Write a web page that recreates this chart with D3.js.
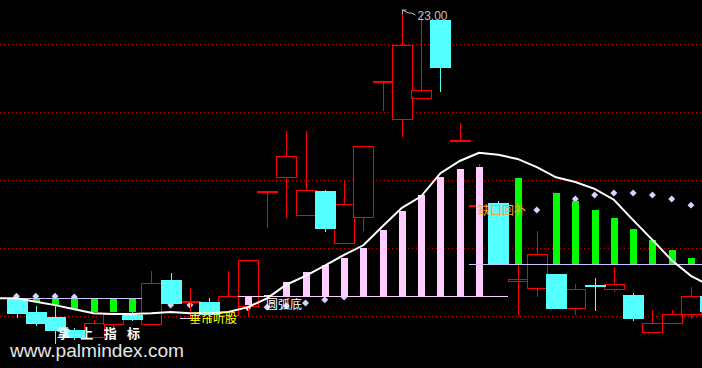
<!DOCTYPE html>
<html lang="zh">
<head>
<meta charset="utf-8">
<title>K线 指标</title>
<script src="https://cdn.jsdelivr.net/npm/d3@7/dist/d3.min.js"></script>
<style>
  body { margin: 0; background: #000; }
  svg { display: block; }
  .cn { font-family: "Noto Sans CJK SC", sans-serif; font-size: 12px; }
  .num { font-family: "Liberation Sans", Arial, sans-serif; font-size: 12px; }
</style>
</head>
<body>
<div id="vis"></div>
<script>
const width = 702, height = 368;

// trading days (index only, no dates on the chart)
const days = d3.range(37);

// candles
const open  = [18.75,18.56,18.49,18.29,18.19,18.38,18.51,18.38,19.03,18.71,18.71,18.51,18.65,20.33,20.54,19.99,20.34,19.57,19.96,21.95,21.40,21.71,22.85,21.08,20.12,20.16,19.01,18.91,19.12,18.62,18.96,18.90,18.81,18.26,18.40,18.53,18.79];
const high  = [18.78,18.65,18.66,18.32,18.44,18.56,18.59,19.16,19.13,18.91,18.76,19.16,19.32,20.34,21.22,21.22,20.35,20.50,21.00,21.96,23.00,22.95,22.85,21.34,20.74,20.19,19.59,19.75,19.12,18.97,19.06,19.22,18.84,18.59,18.59,18.93,18.82];
const low   = [18.47,18.35,18.09,18.15,18.18,18.24,18.43,18.37,18.63,18.46,18.41,18.47,18.49,19.79,19.94,19.99,19.74,19.57,19.75,21.51,21.13,21.71,21.79,21.08,20.12,19.25,18.51,18.78,18.60,18.51,18.57,18.85,18.43,18.26,18.40,18.46,18.50];
const close = [18.53,18.38,18.28,18.18,18.40,18.53,18.44,18.99,18.68,18.72,18.51,18.79,19.32,20.34,20.85,20.35,19.78,20.15,21.00,21.96,22.49,21.82,22.15,21.09,20.13,19.25,19.04,19.41,18.60,18.90,18.93,18.97,18.46,18.40,18.53,18.79,18.56];

// white moving average, starts one day before the first candle
const maDays = d3.range(-1, 37);
const ma = [18.76,18.76,18.71,18.66,18.60,18.54,18.53,18.53,18.54,18.56,18.54,18.54,18.56,18.63,18.76,18.96,19.09,19.24,19.40,19.54,19.82,20.09,20.26,20.60,20.78,20.90,20.87,20.81,20.69,20.54,20.47,20.37,20.21,19.91,19.62,19.32,19.09,18.94];

// dotted grid levels
const gridLevels = [18.5, 19.5, 20.5, 21.5, 22.5];

// level lines: [from day, to day, price]
const levelFrom  = [-1, 8.5, 23.5];
const levelTo    = [6.5, 9.5, 36.5];
const levelPrice = [18.76, 18.47, 19.26];

// pink bars (round bottom)
const pinkBase = 18.79;
const pinkFrom = 11.5, pinkTo = 25.5;
const pinkDays = [12,13,14,15,16,17,18,19,20,21,22,23,24];
const pinkVals = [18.66,18.81,19.00,19.15,19.25,19.35,19.50,19.76,20.04,20.28,20.54,20.66,20.69];

// green bars, left part hang from the level line
const greenLeftDays = [1,2,3,4,5,6];
const greenLeftVals = [18.71,18.66,18.60,18.56,18.56,18.56];
// green bars, right part rise from the level line
const greenRightDays = [26,28,29,30,31,32,33,34,35];
const greenRightVals = [20.53,20.31,20.19,20.06,19.94,19.78,19.62,19.47,19.35];

// diamond dots
const dotDays = [0,1,2,3,8,9,12,13,14,15,16,17,27,28,29,30,31,32,33,34,35];
const dotVals = [18.79,18.79,18.79,18.78,18.66,18.66,18.62,18.63,18.65,18.69,18.74,18.78,20.06,20.16,20.22,20.28,20.31,20.31,20.28,20.22,20.13];

// text signals
const signalText  = ["垂帘听股", "圆弧底", "缺口回补"];
const signalDay   = [9, 13, 24];
const signalPrice = [18.40, 18.60, 19.99];
const signalColor = ["#ffff00", "#ffffff", "#ffa020"];

const x = d3.scaleLinear().domain([0, 36]).range([16.5, 16.5 + 36 * 19.27]);
const y = d3.scaleLinear().domain([18.5, 22.5]).range([316, 44]);

const RED = "#ff0000", CYAN = "#54ffff", GREEN = "#00ff00", PINK = "#ffccff", LAV = "#c8c8ff";
const px = v => Math.round(v);

const svg = d3.select("#vis").append("svg")
  .attr("width", width).attr("height", height)
  .style("background", "#000");

// grid
svg.append("g").selectAll("line").data(gridLevels).join("line")
  .attr("x1", 0).attr("x2", width)
  .attr("y1", d => px(y(d)) + 0.5).attr("y2", d => px(y(d)) + 0.5)
  .attr("stroke", "#c00000").attr("stroke-dasharray", "1,3");

// diamonds (under the bars)
svg.append("g").selectAll("path").data(dotDays).join("path")
  .attr("d", d3.symbol(d3.symbolSquare, 24))
  .attr("transform", (d, i) => `translate(${x(d)},${y(dotVals[i])}) rotate(45)`)
  .attr("fill", "#d4d4ff");

// candles
const candles = days.map(i => ({ i, o: open[i], h: high[i], l: low[i], c: close[i] }));
const cg = svg.append("g").attr("shape-rendering", "crispEdges");
cg.selectAll("line").data(candles).join("line")
  .attr("x1", d => px(x(d.i)) + 0.5).attr("x2", d => px(x(d.i)) + 0.5)
  .attr("y1", d => px(y(d.h))).attr("y2", d => px(y(d.l)))
  .attr("stroke", d => d.c >= d.o ? RED : CYAN);
cg.selectAll("rect.up").data(candles.filter(d => d.c >= d.o)).join("rect")
  .attr("class", "up")
  .attr("x", d => px(x(d.i)) - 10 + 0.5)
  .attr("y", d => px(y(d.c)) + 0.5)
  .attr("width", 20)
  .attr("height", d => Math.max(1, px(y(d.o)) - px(y(d.c))))
  .attr("fill", "#000").attr("stroke", RED);
cg.selectAll("rect.down").data(candles.filter(d => d.c < d.o)).join("rect")
  .attr("class", "down")
  .attr("x", d => px(x(d.i)) - 10)
  .attr("y", d => px(y(d.o)))
  .attr("width", 21)
  .attr("height", d => Math.max(2, px(y(d.c)) - px(y(d.o))))
  .attr("fill", CYAN);

const bg = svg.append("g").attr("shape-rendering", "crispEdges");
// pink bars
bg.selectAll("rect.pink").data(pinkDays).join("rect")
  .attr("class", "pink")
  .attr("x", d => px(x(d)) - 3)
  .attr("width", 7)
  .attr("y", (d, i) => Math.min(y(pinkVals[i]), y(pinkBase)))
  .attr("height", (d, i) => Math.abs(y(pinkVals[i]) - y(pinkBase)))
  .attr("fill", PINK);
bg.append("line")
  .attr("x1", x(pinkFrom)).attr("x2", x(pinkTo))
  .attr("y1", px(y(pinkBase)) + 0.5).attr("y2", px(y(pinkBase)) + 0.5)
  .attr("stroke", PINK);

// green bars
bg.selectAll("rect.gl").data(greenLeftDays).join("rect")
  .attr("class", "gl")
  .attr("x", d => px(x(d)) - 3)
  .attr("width", 7)
  .attr("y", y(levelPrice[0]))
  .attr("height", (d, i) => y(greenLeftVals[i]) - y(levelPrice[0]))
  .attr("fill", GREEN);
bg.selectAll("rect.gr").data(greenRightDays).join("rect")
  .attr("class", "gr")
  .attr("x", d => px(x(d)) - 3)
  .attr("width", 7)
  .attr("y", (d, i) => y(greenRightVals[i]))
  .attr("height", (d, i) => y(levelPrice[2]) - y(greenRightVals[i]))
  .attr("fill", GREEN);

// lavender level lines
bg.selectAll("line.lv").data(levelPrice).join("line")
  .attr("class", "lv")
  .attr("x1", (d, i) => x(levelFrom[i])).attr("x2", (d, i) => x(levelTo[i]))
  .attr("y1", d => px(y(d)) + 0.5).attr("y2", d => px(y(d)) + 0.5)
  .attr("stroke", LAV);

// moving average
svg.append("path")
  .datum(maDays)
  .attr("d", d3.line().x(d => x(d)).y((d, i) => y(ma[i])))
  .attr("fill", "none").attr("stroke", "#fff").attr("stroke-width", 2);

// signal texts
svg.append("g").selectAll("text").data(signalText).join("text")
  .attr("class", "cn")
  .attr("x", (d, i) => x(signalDay[i]) - 1)
  .attr("y", (d, i) => y(signalPrice[i]))
  .attr("fill", (d, i) => signalColor[i])
  .text(d => d);

// highest price marker
const hiIdx = d3.maxIndex(high);
const hx = px(x(hiIdx)) + 0.5, hy = px(y(high[hiIdx]));
svg.append("path")
  .attr("d", `M${hx},${hy + 4}L${hx},${hy}L${hx + 4},${hy} M${hx},${hy}L${hx + 6},${hy + 3}L${hx + 9},${hy + 3}L${hx + 13},${hy + 5}`)
  .attr("fill", "none").attr("stroke", "#c0c0c0");
svg.append("text")
  .attr("class", "num")
  .attr("x", hx + 15).attr("y", hy + 10)
  .attr("fill", "#c0c0c0")
  .text(d3.format(".2f")(high[hiIdx]));

// watermark
svg.append("text")
  .attr("x", 57).attr("y", 338)
  .attr("font-family", "Noto Sans CJK SC").attr("font-size", 13).attr("font-weight", "bold")
  .attr("textLength", 83).attr("lengthAdjust", "spacing")
  .attr("fill", "#fff")
  .text("掌 上 指 标");
svg.append("text")
  .attr("x", 10).attr("y", 357)
  .attr("font-family", "Liberation Sans, Arial, sans-serif").attr("font-size", 18)
  .attr("textLength", 174).attr("lengthAdjust", "spacingAndGlyphs")
  .attr("fill", "#e6e6e6")
  .text("www.palmindex.com");
</script>
</body>
</html>
